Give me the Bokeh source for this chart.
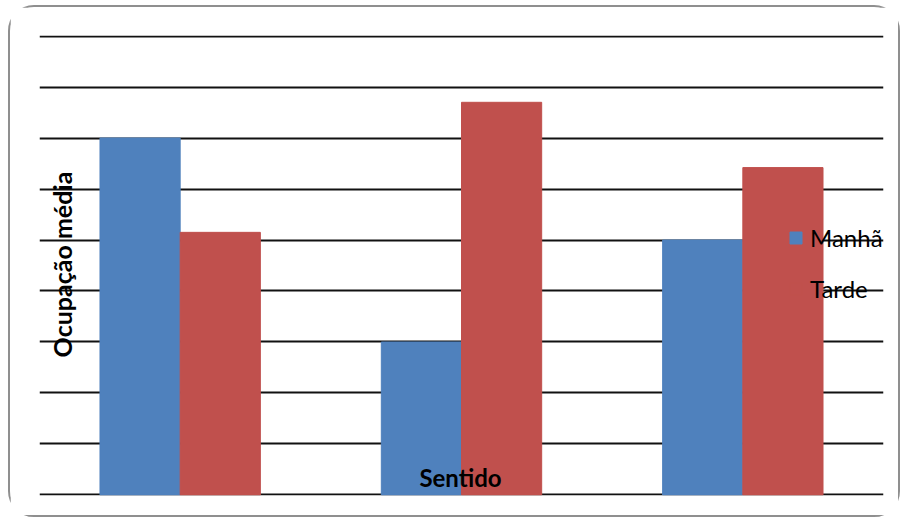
from math import pi

from bokeh.embed import file_html
from bokeh.models import FactorRange, FixedTicker, Label, Legend, LegendItem, Range1d
from bokeh.plotting import figure
from bokeh.resources import INLINE
from bokeh.transform import dodge

# Average occupancy per direction, morning vs. afternoon
sentidos = ["1", "2", "3"]
manha = [7.0, 3.0, 5.0]
tarde = [5.15, 7.7, 6.42]
grid_ticks = list(range(0, 10))

BLUE = "#4F81BD"
RED = "#C0504D"
FONT = "Lato"

p = figure(
    width=892,
    height=512,
    x_range=FactorRange(*sentidos, range_padding=0),
    # a hair of slack so the gridlines at 0 and 9 are still drawn
    y_range=Range1d(-0.01, 9.01),
    output_backend="svg",
    toolbar_location=None,
    min_border_left=29,
    min_border_right=19,
    min_border_top=28,
    min_border_bottom=24,
)
p.styles = {
    "border": "2px solid #8f8f8f",
    "border-radius": "26px",
    "margin-left": "8px",
    "margin-top": "5px",
}

p.xaxis.visible = False
p.yaxis.visible = False
p.outline_line_color = None
p.xgrid.grid_line_color = None
p.ygrid.ticker = FixedTicker(ticks=grid_ticks)
p.ygrid.grid_line_color = "#111111"
p.ygrid.grid_line_width = 2

source = dict(sentido=sentidos, manha=manha, tarde=tarde)
bw = 0.285
r_manha = p.vbar(x=dodge("sentido", -bw / 2, range=p.x_range), top="manha",
                 width=bw, source=source, fill_color=BLUE, line_color=BLUE)
r_tarde = p.vbar(x=dodge("sentido", bw / 2, range=p.x_range), top="tarde",
                 width=bw, source=source, fill_color=RED, line_color=RED)

legend = Legend(
    items=[LegendItem(label="Manhã", renderers=[r_manha]),
           LegendItem(label="Tarde", renderers=[r_tarde])],
    location=(749, 192),
    background_fill_alpha=0,
    border_line_alpha=0,
    padding=0,
    margin=0,
    glyph_width=15,
    glyph_height=15,
    label_standoff=7,
    spacing=22,
    label_text_font=FONT,
    label_text_font_size="24px",
    label_text_color="#000000",
)
p.add_layout(legend)

p.add_layout(Label(x=22, y=231, x_units="screen", y_units="screen",
                   text="Ocupação média", angle=pi / 2,
                   text_align="center", text_baseline="middle",
                   text_font=FONT, text_font_style="bold",
                   text_font_size="25px", text_color="#000000"))
p.add_layout(Label(x=421, y=18, x_units="screen", y_units="screen",
                   text="Sentido",
                   text_align="center", text_baseline="middle",
                   text_font=FONT, text_font_style="bold",
                   text_font_size="24px", text_color="#000000"))

open("out.html", "w").write(file_html(p, INLINE))
